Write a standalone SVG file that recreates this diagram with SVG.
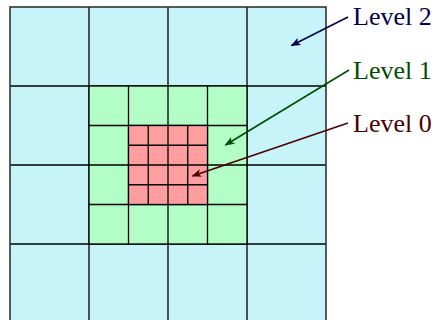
<svg xmlns="http://www.w3.org/2000/svg" width="436" height="320" viewBox="0 0 436 320">
<style>
.g{stroke:#000;stroke-width:1.3;fill:none}
.lbl{font-family:"Liberation Serif","DejaVu Serif",serif;font-size:26px}
.a{stroke-width:1.6;fill:none}
</style>
<defs>
<marker id="m2" viewBox="0 0 10 8" refX="9" refY="4" markerWidth="10" markerHeight="8" markerUnits="userSpaceOnUse" orient="auto"><path d="M0,0 L10,4 L0,8 L2.5,4 Z" fill="#00004D"/></marker>
<marker id="m1" viewBox="0 0 10 8" refX="9" refY="4" markerWidth="10" markerHeight="8" markerUnits="userSpaceOnUse" orient="auto"><path d="M0,0 L10,4 L0,8 L2.5,4 Z" fill="#004D00"/></marker>
<marker id="m0" viewBox="0 0 10 8" refX="9" refY="4" markerWidth="10" markerHeight="8" markerUnits="userSpaceOnUse" orient="auto"><path d="M0,0 L10,4 L0,8 L2.5,4 Z" fill="#4D0000"/></marker>
</defs>
<g id="level2">
<rect x="10" y="7" width="316" height="316" fill="#C6F4F8"/>
<path class="g" d="M89,7V323M168,7V323M247,7V323M10,86H326M10,165H326M10,244H326"/>
<rect x="10" y="7" width="316" height="316" fill="none" stroke="#333" stroke-width="1.6"/>
</g>
<g id="level1">
<rect x="89" y="86" width="158" height="158" fill="#B3FEC6"/>
<path class="g" d="M128.5,86V244M168,86V244M207.5,86V244M89,125.5H247M89,165H247M89,204.5H247"/>
<rect class="g" x="89" y="86" width="158" height="158"/>
</g>
<g id="level0">
<rect x="128.5" y="125.5" width="79" height="79" fill="#FE9E9E"/>
<path class="g" d="M148.25,125.5V204.5M168,125.5V204.5M187.75,125.5V204.5M128.5,145.25H207.5M128.5,165H207.5M128.5,184.75H207.5"/>
<rect class="g" x="128.5" y="125.5" width="79" height="79"/>
</g>
<g id="connectors">
<line class="a" x1="348" y1="17" x2="291.5" y2="45.5" stroke="#00004D" marker-end="url(#m2)"/>
<line class="a" x1="349" y1="70" x2="225.5" y2="145" stroke="#004D00" marker-end="url(#m1)"/>
<line class="a" x1="348" y1="123" x2="192.5" y2="176" stroke="#4D0000" marker-end="url(#m0)"/>
</g>
<g id="labels">
<text class="lbl" x="353" y="25" fill="#00004D">Level 2</text>
<text class="lbl" x="353" y="79" fill="#004D00">Level 1</text>
<text class="lbl" x="353" y="132" fill="#4D0000">Level 0</text>
</g>
</svg>
